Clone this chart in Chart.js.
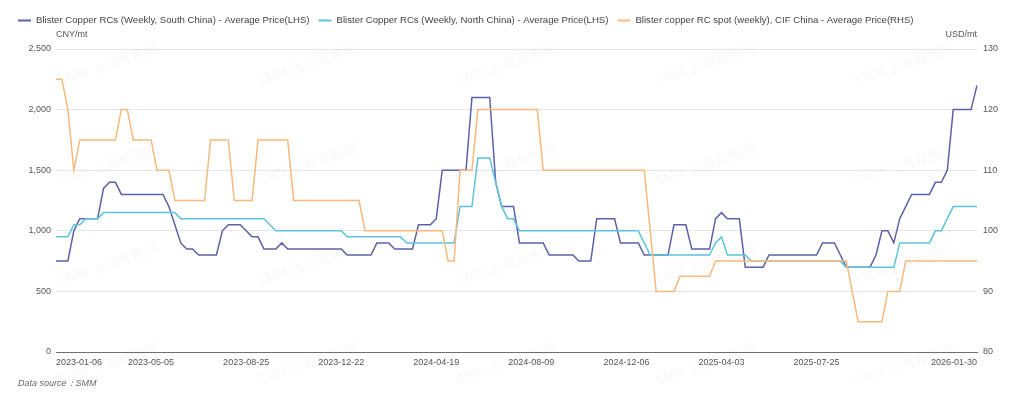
<!DOCTYPE html>
<html>
<head>
<meta charset="utf-8">
<script src="https://cdn.jsdelivr.net/npm/chart.js@4.4.1/dist/chart.umd.min.js"></script>
<style>
  html, body { margin: 0; padding: 0; background: #fff; }
</style>
</head>
<body>
<canvas id="rcChart" width="1024" height="399"></canvas>
<script>
// Weekly dates (holiday weeks are missing in the source)
const weeks = [
  '2023-01-06','2023-01-13','2023-01-20','2023-02-03','2023-02-10','2023-02-17','2023-02-24','2023-03-03','2023-03-10','2023-03-17',
  '2023-03-24','2023-03-31','2023-04-07','2023-04-14','2023-04-21','2023-04-28','2023-05-05','2023-05-12','2023-05-19','2023-05-26',
  '2023-06-02','2023-06-09','2023-06-16','2023-06-23','2023-06-30','2023-07-07','2023-07-14','2023-07-21','2023-07-28','2023-08-04',
  '2023-08-11','2023-08-18','2023-08-25','2023-09-01','2023-09-08','2023-09-15','2023-09-22','2023-09-29','2023-10-13','2023-10-20',
  '2023-10-27','2023-11-03','2023-11-10','2023-11-17','2023-11-24','2023-12-01','2023-12-08','2023-12-15','2023-12-22','2023-12-29',
  '2024-01-05','2024-01-12','2024-01-19','2024-01-26','2024-02-02','2024-02-09','2024-02-23','2024-03-01','2024-03-08','2024-03-15',
  '2024-03-22','2024-03-29','2024-04-05','2024-04-12','2024-04-19','2024-04-26','2024-05-03','2024-05-10','2024-05-17','2024-05-24',
  '2024-05-31','2024-06-07','2024-06-14','2024-06-21','2024-06-28','2024-07-05','2024-07-12','2024-07-19','2024-07-26','2024-08-02',
  '2024-08-09','2024-08-16','2024-08-23','2024-08-30','2024-09-06','2024-09-13','2024-09-20','2024-09-27','2024-10-11','2024-10-18',
  '2024-10-25','2024-11-01','2024-11-08','2024-11-15','2024-11-22','2024-11-29','2024-12-06','2024-12-13','2024-12-20','2024-12-27',
  '2025-01-03','2025-01-10','2025-01-17','2025-01-24','2025-02-07','2025-02-14','2025-02-21','2025-02-28','2025-03-07','2025-03-14',
  '2025-03-21','2025-03-28','2025-04-03','2025-04-11','2025-04-18','2025-04-25','2025-05-02','2025-05-09','2025-05-16','2025-05-23',
  '2025-05-30','2025-06-06','2025-06-13','2025-06-20','2025-06-27','2025-07-04','2025-07-11','2025-07-18','2025-07-25','2025-08-01',
  '2025-08-08','2025-08-15','2025-08-22','2025-08-29','2025-09-05','2025-09-12','2025-09-19','2025-09-26','2025-09-30','2025-10-10',
  '2025-10-17','2025-10-24','2025-10-31','2025-11-07','2025-11-14','2025-11-21','2025-11-28','2025-12-05','2025-12-12','2025-12-19',
  '2025-12-26','2026-01-02','2026-01-09','2026-01-16','2026-01-23','2026-01-30'
];

// Blister Copper RCs, South China (CNY/mt)
const southRC = [
  750, 750, 750, 1000, 1100, 1100, 1100, 1100, 1350, 1400,
  1400, 1300, 1300, 1300, 1300, 1300, 1300, 1300, 1300, 1200,
  1050, 900, 850, 850, 800, 800, 800, 800, 1000, 1050,
  1050, 1050, 1000, 950, 950, 850, 850, 850, 900, 850,
  850, 850, 850, 850, 850, 850, 850, 850, 850, 800,
  800, 800, 800, 800, 900, 900, 900, 850, 850, 850,
  850, 1050, 1050, 1050, 1100, 1500, 1500, 1500, 1500, 1500,
  2100, 2100, 2100, 2100, 1400, 1200, 1200, 1200, 900, 900,
  900, 900, 900, 800, 800, 800, 800, 800, 750, 750,
  750, 1100, 1100, 1100, 1100, 900, 900, 900, 900, 800,
  800, 800, 800, 800, 1050, 1050, 1050, 850, 850, 850,
  850, 1100, 1150, 1100, 1100, 1100, 700, 700, 700, 700,
  800, 800, 800, 800, 800, 800, 800, 800, 800, 900,
  900, 900, 800, 700, 700, 700, 700, 700, 800, 1000,
  1000, 900, 1100, 1200, 1300, 1300, 1300, 1300, 1400, 1400,
  1500, 2000, 2000, 2000, 2000, 2200
];

// Blister Copper RCs, North China (CNY/mt)
const northRC = [
  950, 950, 950, 1050, 1050, 1100, 1100, 1100, 1150, 1150,
  1150, 1150, 1150, 1150, 1150, 1150, 1150, 1150, 1150, 1150,
  1150, 1100, 1100, 1100, 1100, 1100, 1100, 1100, 1100, 1100,
  1100, 1100, 1100, 1100, 1100, 1100, 1050, 1000, 1000, 1000,
  1000, 1000, 1000, 1000, 1000, 1000, 1000, 1000, 1000, 950,
  950, 950, 950, 950, 950, 950, 950, 950, 950, 900,
  900, 900, 900, 900, 900, 900, 900, 900, 1200, 1200,
  1200, 1600, 1600, 1600, 1400, 1200, 1100, 1100, 1000, 1000,
  1000, 1000, 1000, 1000, 1000, 1000, 1000, 1000, 1000, 1000,
  1000, 1000, 1000, 1000, 1000, 1000, 1000, 1000, 1000, 900,
  800, 800, 800, 800, 800, 800, 800, 800, 800, 800,
  800, 900, 950, 800, 800, 800, 800, 750, 750, 750,
  750, 750, 750, 750, 750, 750, 750, 750, 750, 750,
  750, 750, 750, 700, 700, 700, 700, 700, 700, 700,
  700, 700, 900, 900, 900, 900, 900, 900, 1000, 1000,
  1100, 1200, 1200, 1200, 1200, 1200
];

// Blister copper RC spot, CIF China (USD/mt)
const cifRC = [
  125, 125, 120, 110, 115, 115, 115, 115, 115, 115,
  115, 120, 120, 115, 115, 115, 115, 110, 110, 110,
  105, 105, 105, 105, 105, 105, 115, 115, 115, 115,
  105, 105, 105, 105, 115, 115, 115, 115, 115, 115,
  105, 105, 105, 105, 105, 105, 105, 105, 105, 105,
  105, 105, 100, 100, 100, 100, 100, 100, 100, 100,
  100, 100, 100, 100, 100, 100, 95, 95, 110, 110,
  110, 120, 120, 120, 120, 120, 120, 120, 120, 120,
  120, 120, 110, 110, 110, 110, 110, 110, 110, 110,
  110, 110, 110, 110, 110, 110, 110, 110, 110, 110,
  100, 90, 90, 90, 90, 92.5, 92.5, 92.5, 92.5, 92.5,
  92.5, 95, 95, 95, 95, 95, 95, 95, 95, 95,
  95, 95, 95, 95, 95, 95, 95, 95, 95, 95,
  95, 95, 95, 95, 90, 85, 85, 85, 85, 85,
  90, 90, 90, 95, 95, 95, 95, 95, 95, 95,
  95, 95, 95, 95, 95, 95
];

const seriesNames = [
  'Blister Copper RCs (Weekly, South China) - Average Price(LHS)',
  'Blister Copper RCs (Weekly, North China) - Average Price(LHS)',
  'Blister copper RC spot (weekly), CIF China - Average Price(RHS)'
];
const seriesColors = ['#5d61aa', '#5ec4dd', '#f9b97e'];

// indices of the dates shown under the x axis
const labelIdx = [0, 16, 32, 48, 64, 80, 96, 112, 128, 155];

const FONT = "'Liberation Sans', Arial, sans-serif";

// Legend, unit names, source note and watermark
const decorations = {
  id: 'decorations',
  beforeDatasetsDraw(chart) {
    const ctx = chart.ctx;
    ctx.save();
    ctx.font = "14px 'Noto Sans CJK SC', sans-serif";
    ctx.fillStyle = 'rgba(0, 0, 0, 0.032)';
    ctx.textAlign = 'center';
    ctx.textBaseline = 'middle';
    for (let c = 0; c < 5; c++) {
      for (let r = 0; r < 4; r++) {
        ctx.save();
        ctx.translate(108 + 199 * c, 64 + 100 * r);
        ctx.rotate(-0.32);
        ctx.fillText('SMM 上海有色网', 0, 0);
        ctx.restore();
      }
    }
    ctx.restore();
  },
  afterDraw(chart) {
    const ctx = chart.ctx;
    const area = chart.chartArea;
    ctx.save();

    // legend
    ctx.font = '9.6px ' + FONT;
    ctx.textBaseline = 'middle';
    ctx.textAlign = 'left';
    let x = 18;
    const y = 20.5;
    seriesNames.forEach((name, i) => {
      ctx.strokeStyle = seriesColors[i];
      ctx.lineWidth = 2;
      ctx.beginPath();
      ctx.moveTo(x, y);
      ctx.lineTo(x + 13, y);
      ctx.stroke();
      ctx.fillStyle = '#444';
      ctx.fillText(name, x + 18, y);
      x += 18 + ctx.measureText(name).width + 9;
    });

    // axis unit names
    ctx.font = '9px ' + FONT;
    ctx.fillStyle = '#555';
    ctx.textAlign = 'left';
    ctx.fillText('CNY/mt', area.left, 35);
    ctx.textAlign = 'right';
    ctx.fillText('USD/mt', area.right, 35);

    // source note
    ctx.font = 'italic 9px ' + FONT;
    ctx.fillStyle = '#666';
    ctx.textAlign = 'left';
    ctx.fillText('Data source：SMM', 18, 383);
    ctx.restore();
  }
};

const tickFont = { family: FONT, size: 9 };

new Chart(document.getElementById('rcChart').getContext('2d'), {
  type: 'line',
  data: {
    labels: weeks,
    datasets: [{
      label: seriesNames[0],
      data: southRC,
      borderColor: seriesColors[0],
      backgroundColor: seriesColors[0],
      yAxisID: 'y',
      order: 3
    }, {
      label: seriesNames[1],
      data: northRC,
      borderColor: seriesColors[1],
      backgroundColor: seriesColors[1],
      yAxisID: 'y',
      order: 2
    }, {
      label: seriesNames[2],
      data: cifRC,
      borderColor: seriesColors[2],
      backgroundColor: seriesColors[2],
      yAxisID: 'y1',
      order: 1
    }]
  },
  options: {
    responsive: false,
    animation: false,
    devicePixelRatio: 1,
    layout: { padding: { top: 49, left: 0, right: 0, bottom: 0 } },
    elements: {
      point: { radius: 0, hoverRadius: 0 },
      line: { tension: 0, borderWidth: 1.5, fill: false }
    },
    plugins: {
      legend: { display: false },
      tooltip: { enabled: false }
    },
    scales: {
      x: {
        type: 'category',
        offset: false,
        grid: { display: false, drawTicks: false },
        border: { display: true, color: '#6e7079', width: 1 },
        ticks: {
          autoSkip: false,
          maxRotation: 0,
          minRotation: 0,
          align: 'inner',
          padding: 5,
          color: '#555',
          font: tickFont
        },
        afterBuildTicks(scale) {
          scale.ticks = scale.ticks.filter(t => labelIdx.includes(t.value));
        },
        afterFit(scale) { scale.height = 47; }
      },
      y: {
        position: 'left',
        min: 0,
        max: 2500,
        ticks: { stepSize: 500, padding: 5, color: '#555', font: tickFont },
        grid: { color: '#e6e6e6', drawTicks: false },
        border: { display: false },
        afterFit(scale) { scale.width = 56; }
      },
      y1: {
        position: 'right',
        min: 80,
        max: 130,
        ticks: { stepSize: 10, padding: 6, color: '#555', font: tickFont },
        grid: { drawOnChartArea: false, drawTicks: false },
        border: { display: false },
        afterFit(scale) { scale.width = 47; }
      }
    }
  },
  plugins: [decorations]
});
</script>
</body>
</html>
